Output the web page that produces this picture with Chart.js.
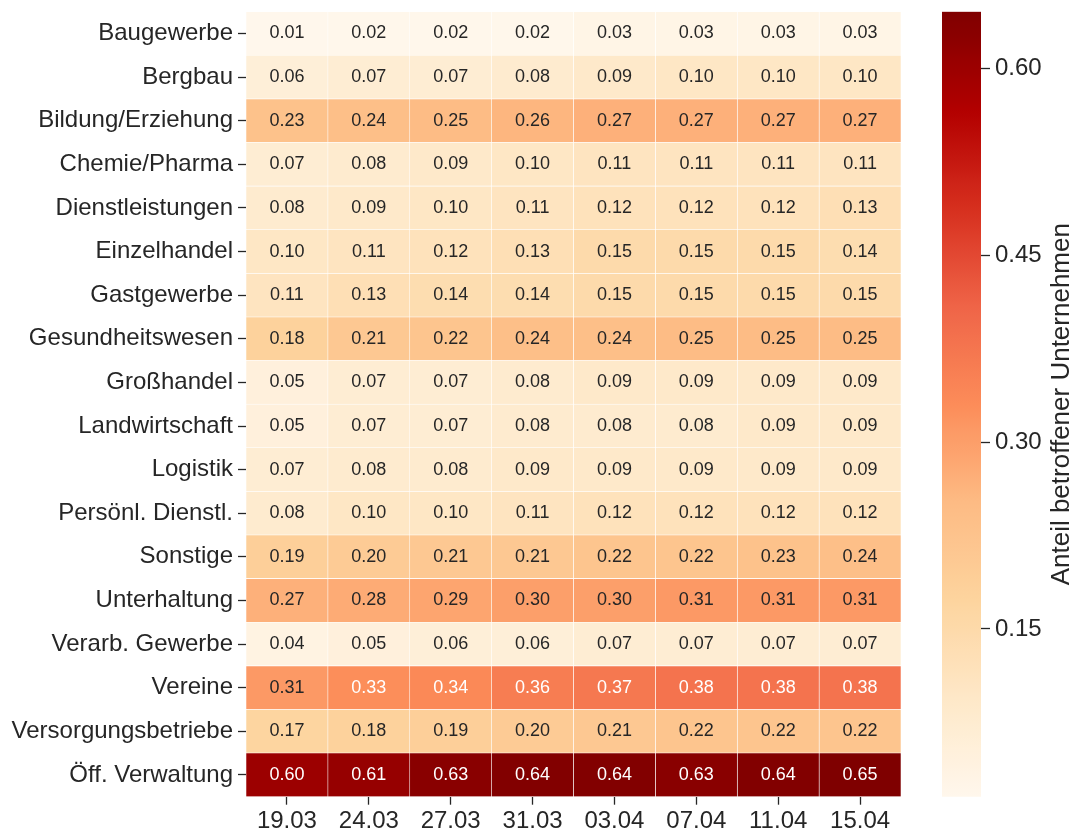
<!DOCTYPE html>
<html><head><meta charset="utf-8">
<script src="https://cdn.jsdelivr.net/npm/chart.js@4.4.0/dist/chart.umd.min.js"></script>
<style>
html,body{margin:0;padding:0;background:#fff;}
#wrap{position:relative;width:1078px;height:832px;overflow:hidden;}
canvas{position:absolute;left:0;top:0;}
</style></head><body>
<div id="wrap"><canvas id="heat" width="1078" height="832"></canvas><canvas id="cbar" width="1078" height="832"></canvas></div>
<script>
const categories = ["Baugewerbe","Bergbau","Bildung/Erziehung","Chemie/Pharma","Dienstleistungen","Einzelhandel","Gastgewerbe","Gesundheitswesen","Großhandel","Landwirtschaft","Logistik","Persönl. Dienstl.","Sonstige","Unterhaltung","Verarb. Gewerbe","Vereine","Versorgungsbetriebe","Öff. Verwaltung"];
const dates = ["19.03","24.03","27.03","31.03","03.04","07.04","11.04","15.04"];
const baugewerbe        = [0.01,0.02,0.02,0.02,0.03,0.03,0.03,0.03];
const bergbau           = [0.06,0.07,0.07,0.08,0.09,0.10,0.10,0.10];
const bildung           = [0.23,0.24,0.25,0.26,0.27,0.27,0.27,0.27];
const chemie            = [0.07,0.08,0.09,0.10,0.11,0.11,0.11,0.11];
const dienstleistungen  = [0.08,0.09,0.10,0.11,0.12,0.12,0.12,0.13];
const einzelhandel      = [0.10,0.11,0.12,0.13,0.15,0.15,0.15,0.14];
const gastgewerbe       = [0.11,0.13,0.14,0.14,0.15,0.15,0.15,0.15];
const gesundheitswesen  = [0.18,0.21,0.22,0.24,0.24,0.25,0.25,0.25];
const grosshandel       = [0.05,0.07,0.07,0.08,0.09,0.09,0.09,0.09];
const landwirtschaft    = [0.05,0.07,0.07,0.08,0.08,0.08,0.09,0.09];
const logistik          = [0.07,0.08,0.08,0.09,0.09,0.09,0.09,0.09];
const persDienstl       = [0.08,0.10,0.10,0.11,0.12,0.12,0.12,0.12];
const sonstige          = [0.19,0.20,0.21,0.21,0.22,0.22,0.23,0.24];
const unterhaltung      = [0.27,0.28,0.29,0.30,0.30,0.31,0.31,0.31];
const verarbGewerbe     = [0.04,0.05,0.06,0.06,0.07,0.07,0.07,0.07];
const vereine           = [0.31,0.33,0.34,0.36,0.37,0.38,0.38,0.38];
const versorgung        = [0.17,0.18,0.19,0.20,0.21,0.22,0.22,0.22];
const oeffVerwaltung    = [0.60,0.61,0.63,0.64,0.64,0.63,0.64,0.65];
const colorbarTicks = [0.15,0.30,0.45,0.60];
const colorbarTitle = "Anteil betroffener Unternehmen";
const vmin = 0.0154, vmax = 0.6454;

const rows = [baugewerbe,bergbau,bildung,chemie,dienstleistungen,einzelhandel,gastgewerbe,gesundheitswesen,grosshandel,landwirtschaft,logistik,persDienstl,sonstige,unterhaltung,verarbGewerbe,vereine,versorgung,oeffVerwaltung];

const ORRD = ['#fff7ec','#fee8c8','#fdd49e','#fdbb84','#fc8d59','#ef6548','#d7301f','#b30000','#7f0000'].map(h=>[parseInt(h.slice(1,3),16),parseInt(h.slice(3,5),16),parseInt(h.slice(5,7),16)]);
function cmapRGB(v){
  let t=(v-vmin)/(vmax-vmin); t=Math.max(0,Math.min(1,t));
  const idx=Math.min(255,Math.floor(t*256)); t=idx/255;
  const p=t*8; const i=Math.min(7,Math.floor(p)); const f=p-i;
  return [0,1,2].map(k=>ORRD[i][k]+(ORRD[i+1][k]-ORRD[i][k])*f);
}
function cmap(v){const c=cmapRGB(v);return `rgb(${c[0].toFixed(1)},${c[1].toFixed(1)},${c[2].toFixed(1)})`;}
function textColor(v){
  const c=cmapRGB(v).map(x=>{x/=255;return x<=0.03928?x/12.92:Math.pow((x+0.055)/1.055,2.4);});
  const L=0.2126*c[0]+0.7152*c[1]+0.0722*c[2];
  return L>0.408?'#262626':'#ffffff';
}

const FONT = '"Liberation Sans", Arial, Helvetica, sans-serif';
Chart.defaults.font.family = FONT;
Chart.defaults.color = '#262626';
const INK = '#262626';
function zeroPad(s){s.paddingTop=0;s.paddingBottom=0;s.paddingLeft=0;s.paddingRight=0;}

const annot = {id:'annot', afterDatasetsDraw(chart){
  const ctx=chart.ctx; ctx.save();
  ctx.font='18px '+FONT; ctx.textAlign='center'; ctx.textBaseline='middle';
  chart.data.datasets.forEach((ds,j)=>{
    chart.getDatasetMeta(j).data.forEach((el,i)=>{
      const v=rows[i][j];
      ctx.fillStyle=textColor(v);
      ctx.fillText(v.toFixed(2),(el.x+el.base)/2,el.y);
    });
  });
  ctx.restore();
}};

new Chart(document.getElementById('heat'),{
  type:'bar',
  data:{labels:categories, datasets:dates.map((d,j)=>({
    label:d,
    data:rows.map(()=>[j,j+1]),
    backgroundColor:rows.map(r=>cmap(r[j])),
    borderColor:'#ffffff', borderWidth:0.6, borderSkipped:false,
    barPercentage:1, categoryPercentage:1, grouped:false
  }))},
  options:{
    indexAxis:'y', responsive:false, animation:false,
    layout:{padding:{left:0,top:11.7,right:177,bottom:0}},
    plugins:{legend:{display:false},tooltip:{enabled:false}},
    scales:{
      x:{type:'linear',position:'bottom',min:0,max:8,
        afterBuildTicks:s=>{s.ticks=dates.map((d,i)=>({value:i+0.5}));},
        afterFit:s=>{s.height=35.3;zeroPad(s);},
        ticks:{callback:v=>dates[Math.round(v-0.5)],font:{size:24},color:INK,padding:2,autoSkip:false,maxRotation:0},
        grid:{drawOnChartArea:false,drawTicks:true,tickLength:8,tickColor:INK,tickWidth:1.3},
        border:{display:false}},
      y:{type:'category',position:'left',offset:true,
        afterFit:s=>{s.width=246;zeroPad(s);},
        ticks:{font:{size:24},color:INK,padding:5,autoSkip:false},
        grid:{offset:false,drawOnChartArea:false,drawTicks:true,tickLength:8,tickColor:INK,tickWidth:1.3},
        border:{display:false}}
    }
  },
  plugins:[annot]
});

const cbTitle={id:'cbTitle', afterDraw(chart){
  const a=chart.chartArea, ctx=chart.ctx; ctx.save();
  ctx.translate(1069,(a.top+a.bottom)/2); ctx.rotate(-Math.PI/2);
  ctx.font='26px '+FONT; ctx.fillStyle=INK; ctx.textAlign='center'; ctx.textBaseline='alphabetic';
  ctx.fillText(colorbarTitle,0,0); ctx.restore();
}};

new Chart(document.getElementById('cbar'),{
  type:'bar',
  data:{labels:[''],datasets:[{data:[[vmin,vmax]],
    backgroundColor:c=>{const a=c.chart.chartArea; if(!a) return '#fff';
      const g=c.chart.ctx.createLinearGradient(0,a.bottom,0,a.top);
      for(let k=0;k<=64;k++){g.addColorStop(k/64,cmap(vmin+(vmax-vmin)*k/64));}
      return g;},
    borderWidth:0,barPercentage:1,categoryPercentage:1}]},
  options:{
    responsive:false, animation:false,
    layout:{padding:{left:942,top:11.7,bottom:35.3,right:0}},
    plugins:{legend:{display:false},tooltip:{enabled:false}},
    scales:{
      x:{display:false},
      y:{type:'linear',position:'right',min:vmin,max:vmax,
        afterBuildTicks:s=>{s.ticks=colorbarTicks.map(v=>({value:v}));},
        afterFit:s=>{s.width=97;zeroPad(s);},
        ticks:{callback:v=>v.toFixed(2),font:{size:24},color:INK,padding:5},
        grid:{drawOnChartArea:false,drawTicks:true,tickLength:9,tickColor:INK,tickWidth:1.3},
        border:{display:false}}
    }
  },
  plugins:[cbTitle]
});
</script>
</body></html>
